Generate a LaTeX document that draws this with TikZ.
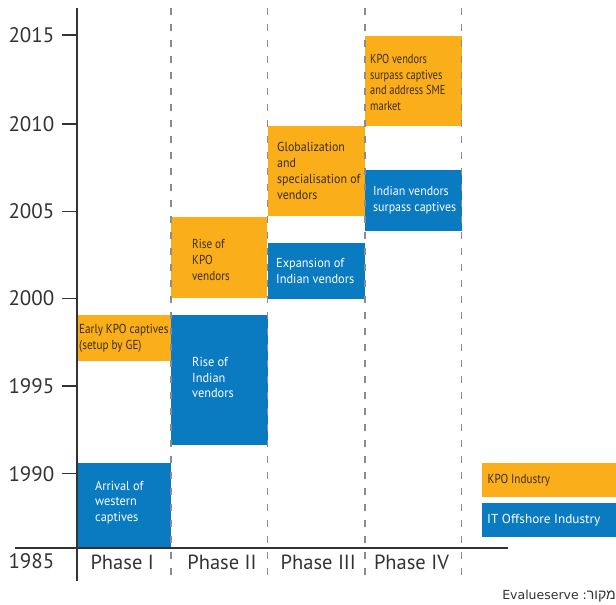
\documentclass[tikz,border=0pt]{standalone}
\usepackage{fontspec}
\setmainfont{PT Sans}
\newfontfamily\bfA[FakeStretch=0.8]{PT Sans}
\newfontfamily\bfB[FakeStretch=0.86]{PT Sans}
\newfontfamily\bfC[FakeStretch=0.92]{PT Sans}
\newfontfamily\bfD[FakeStretch=0.95]{PT Sans}
\newfontfamily\bfE[FakeStretch=1.02]{PT Sans}
\newfontfamily\srcfont{DejaVu Sans}
\newfontfamily\hebfont[Script=Hebrew]{Liberation Sans}
\TeXXeTstate=1
\definecolor{kpo}{HTML}{FAAE19}
\definecolor{itb}{HTML}{0A7BC1}
\definecolor{dtext}{HTML}{3A2E1A}
\definecolor{dashgray}{HTML}{8C8C8C}
\definecolor{axisc}{HTML}{333333}
\tikzset{
  obox/.style={fill=kpo, draw=none, inner sep=0pt, outer sep=0pt, anchor=north west},
  bbox/.style={fill=itb, draw=none, inner sep=0pt, outer sep=0pt, anchor=north west},
  otext/.style={font=#1\fontsize{13}{15.8}\selectfont, text=dtext, align=left, inner sep=0pt, anchor=west},
  btext/.style={font=#1\fontsize{13}{15.8}\selectfont, text=white, align=left, inner sep=0pt, anchor=west},
  yearlbl/.style={font=\fontsize{21}{24}\selectfont, text=axisc, inner sep=0pt, anchor=east},
  phaselbl/.style={font=\fontsize{20.5}{24}\selectfont, text=axisc, inner sep=0pt, anchor=base},
  phaseline/.style={draw=dashgray, line width=1.3pt, dash pattern=on 7pt off 9pt},
  axisline/.style={draw=axisc, line width=1.4pt},
  tickline/.style={draw=axisc, line width=1.4pt},
}
\begin{document}
\begin{tikzpicture}[x=1pt,y=-1pt]
\useasboundingbox (0,0) rectangle (616,605);

% boxes
\node[obox, minimum width=94pt, minimum height=46pt] (early) at (77,315) {};
\node[bbox, minimum width=94pt, minimum height=86pt] (arrival) at (77,462.5) {};
\node[obox, minimum width=96pt, minimum height=81pt] (risekpo) at (171,217) {};
\node[bbox, minimum width=97pt, minimum height=130pt] (riseind) at (171,315) {};
\node[obox, minimum width=97pt, minimum height=90pt] (glob) at (268,126) {};
\node[bbox, minimum width=97pt, minimum height=56pt] (expan) at (268,243) {};
\node[obox, minimum width=97pt, minimum height=90pt] (kposur) at (365,36) {};
\node[bbox, minimum width=97pt, minimum height=61pt] (indsur) at (365,170) {};
\node[obox, minimum width=135pt, minimum height=34pt] (legk) at (481.5,463) {};
\node[bbox, minimum width=135pt, minimum height=34pt] (legi) at (481.5,503) {};

% dashed phase lines
\foreach \i/\x in {1/171,2/267.5,3/365,4/461.5}{
  \coordinate (d\i t) at (\x,8);
  \coordinate (d\i b) at (\x,580);
  \draw[phaseline] (d\i t) -- (d\i b);
}

% axes
\coordinate (ytop) at (77,8);
\coordinate (ybot) at (77,581);
\coordinate (xl) at (15,548);
\coordinate (xr) at (508,548);
\draw[axisline] (ytop) -- (ybot);
\draw[axisline] (xl) -- (xr);

% ticks and year labels
\foreach \n/\y in {2015/35,2010/124,2005/211.5,2000/298.5,1995/386,1990/473.7}{
  \coordinate (t\n a) at (61.5,\y);
  \coordinate (t\n b) at (77,\y);
  \draw[tickline] (t\n a) -- (t\n b);
  \node[yearlbl] (y\n) at (54.5,\y) {\n};
}
\node[yearlbl] (y1985) at (54.5,561) {1985};

% phase labels
\node[phaselbl] (p1) at (122.2,569) {Phase I};
\node[phaselbl] (p2) at (222,569) {Phase II};
\node[phaselbl] (p3) at (318.3,569) {Phase III};
\node[phaselbl] (p4) at (411.5,569) {Phase IV};

% box texts
\node[otext=\bfB] (earlyT) at ([xshift=2pt]early.west) {Early KPO captives\\(setup by GE)};
\node[btext=\bfD] (arrivalT) at ([xshift=18pt,yshift=3pt]arrival.west) {Arrival of\\western\\captives};
\node[otext=\bfB] (risekpoT) at ([xshift=21pt,yshift=-2.5pt]risekpo.west) {Rise of\\KPO\\vendors};
\node[btext=\bfD] (riseindT) at ([xshift=21pt,yshift=2.5pt]riseind.west) {Rise of\\Indian\\vendors};
\node[otext=\bfC] (globT) at ([xshift=9pt]glob.west) {Globalization\\and\\specialisation of\\vendors};
\node[btext=\bfD] (expanT) at ([xshift=8pt]expan.west) {Expansion of\\Indian vendors};
\node[otext=\bfA] (kposurT) at ([xshift=5pt,yshift=-1.5pt]kposur.west) {KPO vendors\\surpass captives\\and address SME\\market};
\node[btext=\bfC] (indsurT) at ([xshift=8pt]indsur.west) {Indian vendors\\surpass captives};
\node[otext=\bfB] (legkT) at ([xshift=6pt]legk.west) {KPO Industry};
\node[btext=\bfE] (legiT) at ([xshift=5.5pt]legi.west) {IT Offshore Industry};

% source
\node[font=\srcfont\fontsize{12.5}{15}\selectfont, text=axisc, inner sep=0pt, anchor=base east] (src) at (616,599) {Evalueserve :{\hebfont\fontsize{14}{16}\selectfont\beginR מקור\endR}};
\end{tikzpicture}
\end{document}
